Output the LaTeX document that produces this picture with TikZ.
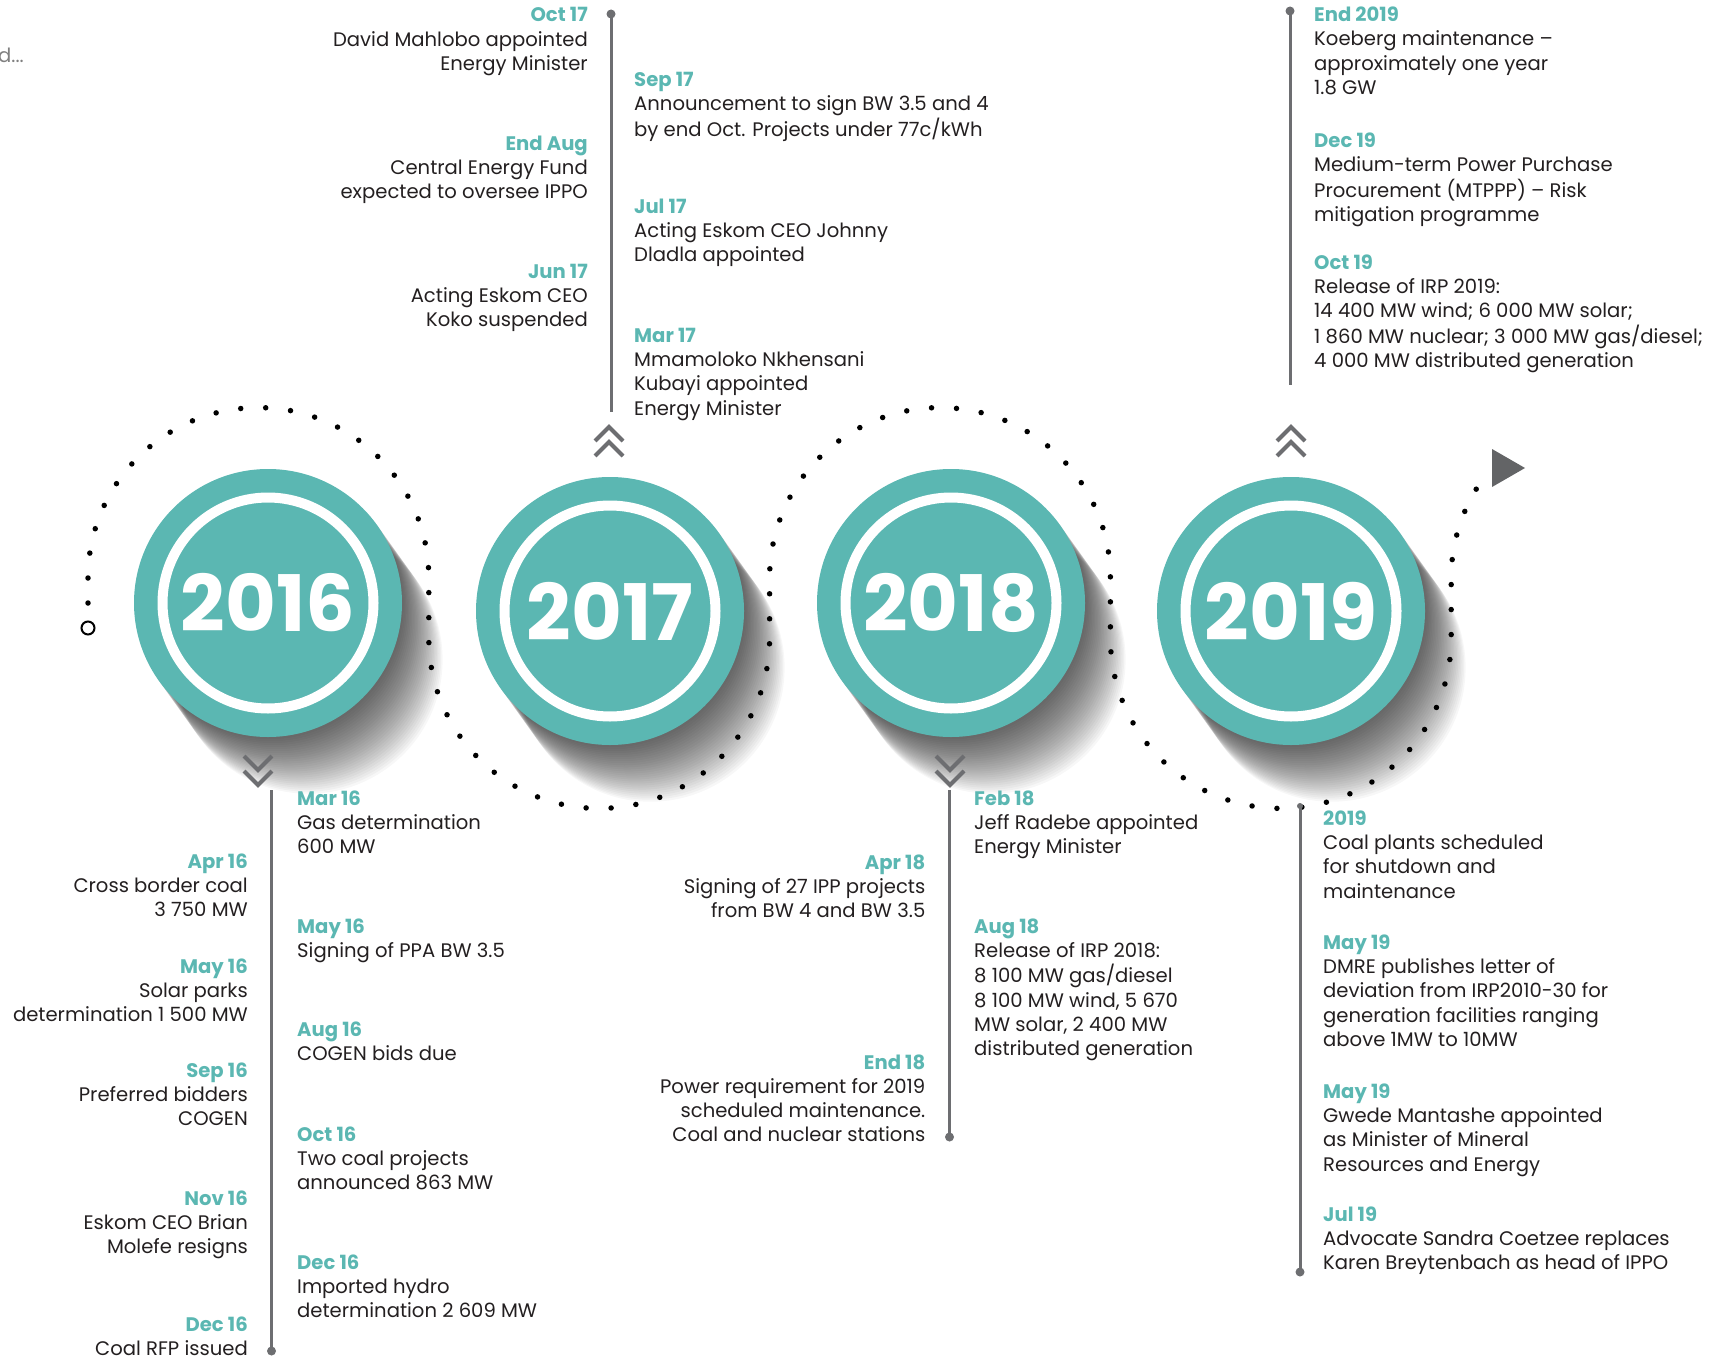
\documentclass[tikz,border=0pt]{standalone}
\usepackage{fontspec}
\setmainfont{Poppins}
\usetikzlibrary{calc}
\definecolor{tlteal}{HTML}{5BB7B2}
\definecolor{tlgray}{HTML}{6D6E71}
\definecolor{tltext}{HTML}{231F20}
\definecolor{tlarrow}{HTML}{636466}
\newcommand\dtlbl[1]{{\color{tlteal}\bfseries #1}}
\newcommand\evR[4]{\node[evtxt, anchor=base east] (#1) at (#2) {\begin{tabular}[t]{@{}r@{}}\dtlbl{#3}\\#4\end{tabular}};}
\newcommand\evL[4]{\node[evtxt, anchor=base west] (#1) at (#2) {\begin{tabular}[t]{@{}l@{}}\dtlbl{#3}\\#4\end{tabular}};}
\begin{document}
\begin{tikzpicture}[x=1pt,y=-1pt,
  spine/.style={draw=tlgray, line width=3pt},
  chev/.style={draw=tlgray, line width=4pt},
  dotpath/.style={draw=black, line width=5.5pt, line cap=round, dash pattern=on 0pt off 25pt},
  evtxt/.style={inner sep=0pt, font=\fontsize{19.6}{24.2}\selectfont, text=tltext},
  yeartxt/.style={font=\fontsize{78}{78}\selectfont\bfseries, text=white, inner sep=0pt},
  disc/.style={fill=tlteal},
  ring/.style={draw=white, line width=10pt},
  shade/.style={fill=black, opacity=0.03}
]
\useasboundingbox (0,0) rectangle (1723,1359);

% circle centres
\coordinate (c16) at (268,603);
\coordinate (c17) at (610,611);
\coordinate (c18) at (951,603);
\coordinate (c19) at (1291,611);

% long shadows
\foreach \c in {c16,c17,c18,c19}{
  \foreach \t in {2.5,5,...,70}{
    \fill[shade] ($(\c)+(0.58*\t,0.81*\t)$) circle[radius=134];
  }
}

% dotted wave
\coordinate (wstart) at (88,628);
\draw[dotpath] (wstart) -- (88,578) arc[start angle=180,end angle=360,radius=170.4]
  -- (428.8,638) arc[start angle=180,end angle=0,radius=170.4]
  -- (769.6,578) arc[start angle=180,end angle=360,radius=170.4]
  -- (1110.4,638) arc[start angle=180,end angle=0,radius=170.4]
  -- (1451.2,578) arc[start angle=180,end angle=214,radius=170.4];
\draw[black, line width=2pt, fill=white] (wstart) circle[radius=6.5];
\fill[tlarrow] (1492,449) -- (1525,468) -- (1492,487) -- cycle;

% year discs
\foreach \c/\y in {c16/2016,c17/2017,c18/2018,c19/2019}{
  \fill[disc] (\c) circle[radius=134];
  \draw[ring] (\c) circle[radius=105.5];
  \node[yeartxt] (y\y) at (\c) {\y};
}

% chevrons
\foreach \x in {258,950}{
  \draw[chev] (\x-14,756) -- (\x,770) -- (\x+14,756);
  \draw[chev] (\x-14,771) -- (\x,785) -- (\x+14,771);
}
\foreach \x in {609,1291}{
  \draw[chev] (\x-14,441) -- (\x,427) -- (\x+14,441);
  \draw[chev] (\x-14,456) -- (\x,442) -- (\x+14,456);
}

% spines
\coordinate (s16a) at (271.5,790);  \coordinate (s16b) at (271.5,1351);
\coordinate (s17a) at (611,14);     \coordinate (s17b) at (611,412);
\coordinate (s18a) at (949.5,790);  \coordinate (s18b) at (949.5,1137);
\coordinate (s19a) at (1290,11);    \coordinate (s19b) at (1290,385);
\coordinate (s19c) at (1300,806);   \coordinate (s19d) at (1300,1272);
\draw[spine] (s16a) -- (s16b);
\draw[spine] (s17a) -- (s17b);
\draw[spine] (s18a) -- (s18b);
\draw[spine] (s19a) -- (s19b);
\draw[spine] (s19c) -- (s19d);
\fill[tlgray] (s16b) circle[radius=4.5];
\fill[tlgray] (s17a) circle[radius=4.5];
\fill[tlgray] (s18b) circle[radius=4.5];
\fill[tlgray] (s19a) circle[radius=4.5];
\fill[tlgray] (s19d) circle[radius=4.5];
\fill[tlgray] (s19c) circle[radius=3];

% cut-off text
\node[evtxt, anchor=base east, text=gray] (cut) at (24,63) {d...};

% top left
\evR{t1}{588,22}{Oct 17}{David Mahlobo appointed\\Energy Minister}
\evR{t2}{588,150.5}{End Aug}{Central Energy Fund\\expected to oversee IPPO}
\evR{t3}{588,278.5}{Jun 17}{Acting Eskom CEO\\Koko suspended}
% top middle
\evL{t4}{634,86.5}{Sep 17}{Announcement to sign BW 3.5 and 4\\by end Oct. Projects under 77c/kWh}
\evL{t5}{634,213.5}{Jul 17}{Acting Eskom CEO Johnny\\Dladla appointed}
\evL{t6}{634,342.5}{Mar 17}{Mmamoloko Nkhensani\\Kubayi appointed\\Energy Minister}
% top right
\evL{t7}{1314,21.7}{End 2019}{Koeberg maintenance --\\approximately one year\\1.8 GW}
\evL{t8}{1314,147.5}{Dec 19}{Medium-term Power Purchase\\Procurement (MTPPP) -- Risk\\mitigation programme}
\evL{t9}{1314,269.5}{Oct 19}{Release of IRP 2019:\\14 400 MW wind; 6 000 MW solar;\\1 860 MW nuclear; 3 000 MW gas/diesel;\\4 000 MW distributed generation}
% bottom 2016
\evR{b1}{248,868.5}{Apr 16}{Cross border coal\\3 750 MW}
\evR{b2}{248,973}{May 16}{Solar parks\\determination 1 500 MW}
\evR{b3}{248,1077}{Sep 16}{Preferred bidders\\COGEN}
\evR{b4}{248,1205}{Nov 16}{Eskom CEO Brian\\Molefe resigns}
\evR{b5}{248,1331}{Dec 16}{Coal RFP issued}
\evL{b6}{297,805.5}{Mar 16}{Gas determination\\600 MW}
\evL{b7}{297,933}{May 16}{Signing of PPA BW 3.5}
\evL{b8}{297,1036.5}{Aug 16}{COGEN bids due}
\evL{b9}{297,1141}{Oct 16}{Two coal projects\\announced 863 MW}
\evL{b10}{297,1269}{Dec 16}{Imported hydro\\determination 2 609 MW}
% bottom 2018
\evR{b11}{925.5,869}{Apr 18}{Signing of 27 IPP projects\\from BW 4 and BW 3.5}
\evR{b12}{925.5,1069}{End 18}{Power requirement for 2019\\scheduled maintenance.\\Coal and nuclear stations}
\evL{b13}{974,805.5}{Feb 18}{Jeff Radebe appointed\\Energy Minister}
\evL{b14}{974,933}{Aug 18}{Release of IRP 2018:\\8 100 MW gas/diesel\\8 100 MW wind, 5 670\\MW solar, 2 400 MW\\distributed generation}
% bottom 2019
\evL{b15}{1323,825.5}{2019}{Coal plants scheduled\\for shutdown and\\maintenance}
\evL{b16}{1323,949.5}{May 19}{DMRE publishes letter of\\deviation from IRP2010-30 for\\generation facilities ranging\\above 1MW to 10MW}
\evL{b17}{1323,1098.5}{May 19}{Gwede Mantashe appointed\\as Minister of Mineral\\Resources and Energy}
\evL{b18}{1323,1221.5}{Jul 19}{Advocate Sandra Coetzee replaces\\Karen Breytenbach as head of IPPO}
\end{tikzpicture}
\end{document}
